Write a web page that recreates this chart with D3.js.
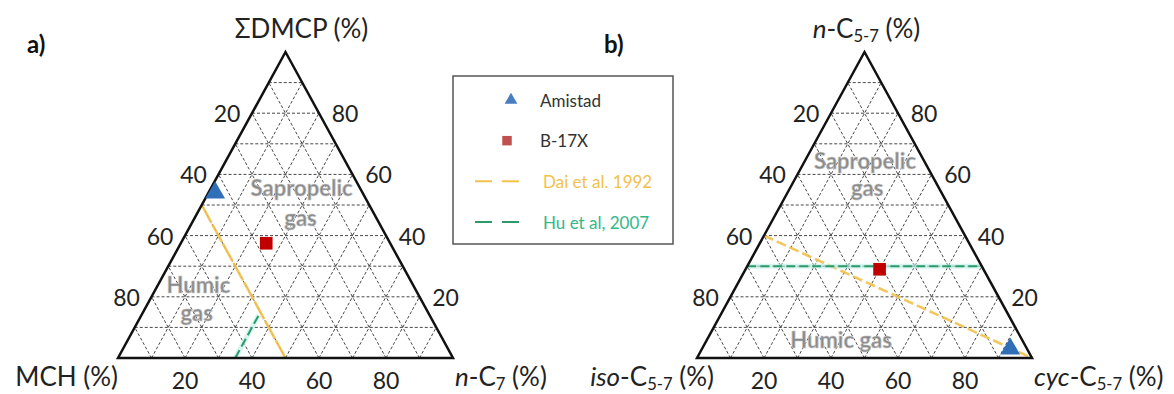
<!DOCTYPE html>
<html>
<head>
<meta charset="utf-8">
<script src="https://cdn.jsdelivr.net/npm/d3@7"></script>
<style>
  body { margin: 0; background: #fff; }
  svg { display: block; font-family: Lato, "Open Sans", sans-serif; }
  .grid { fill: none; stroke: #333; stroke-width: 0.9; stroke-dasharray: 3,2; }
  .frame { fill: none; stroke: #111; stroke-width: 2.5; stroke-linejoin: miter; }
  .tick-label { font-size: 23px; fill: #222; text-anchor: middle; dominant-baseline: central; }
  .vertex-label { font-size: 26px; fill: #222; }
  .region-label { font-size: 22px; font-weight: bold; fill: #8a8a8a; stroke: #c8c8c8; stroke-width: 0.6; text-anchor: middle; dominant-baseline: central; }
  .panel-tag { font-size: 24px; font-weight: bold; fill: #111; }
</style>
</head>
<body>
<svg id="chart" width="1174" height="394"></svg>
<script>
// ---------- data (compositions are [top, left, right] in %) ----------
const gridLevels = [10, 20, 30, 40, 50, 60, 70, 80, 90];
const tickValues = [20, 40, 60, 80];

const legendLabels = ["Amistad", "B-17X", "Dai et al. 1992", "Hu et al, 2007"];

// panel a: top = ΣDMCP, left = MCH, right = n-C7
const amistadA = [[54, 44, 2]];
const b17xA = [[37.5, 37, 25.5]];
const daiLineA = [[50, 50, 0], [0, 50, 50]];
const huLineA = [[0, 65, 35], [14, 51, 35]];
const regionTextA = ["Sapropelic", "gas", "Humic", "gas"];
const regionCompA = [[55.6, 17.4, 27], [46, 22.5, 31.5], [24, 64, 12], [15, 69, 16]];

// panel b: top = n-C5-7, left = iso-C5-7, right = cyc-C5-7
const amistadB = [[3, 5, 92]];
const b17xB = [[29, 31, 40]];
const daiLineB = [[40, 60, 0], [0, 0, 100]];
const huLineB = [[30, 70, 0], [30, 0, 70]];
const regionTextB = ["Sapropelic", "gas", "Humic gas"];
const regionCompB = [[64.7, 17.5, 17.8], [55.6, 21.4, 23], [6, 54, 40]];

// ---------- colours ----------
const blue = "#2f6fb8", red = "#c00000";
const daiColour = "#f3c14c", huColour = "#2e9a6a";

const svg = d3.select("#chart");
svg.append("rect").attr("width", 1174).attr("height", 394).attr("fill", "#fff");

/**
 * Draw one ternary panel
 */
function drawTernary(opts) {
    const g = svg.append("g");

    // unit-triangle coords: u along base (0..1), v height (0..1)
    const xScale = d3.scaleLinear().domain([0, 1]).range([opts.x0, opts.x0 + opts.width]);
    const yScale = d3.scaleLinear().domain([0, 1]).range([opts.baseY, opts.topY]);
    const proj = c => {
        const s = c[0] + c[1] + c[2];
        const t = c[0] / s, r = c[2] / s;
        return [xScale(r + t / 2), yScale(t)];
    };
    const line = d3.line().x(d => proj(d)[0]).y(d => proj(d)[1]);

    // grid
    const gridSegs = [];
    gridLevels.forEach(k => {
        gridSegs.push([[k, 100 - k, 0], [k, 0, 100 - k]]);   // constant top
        gridSegs.push([[0, k, 100 - k], [100 - k, k, 0]]);   // constant left
        gridSegs.push([[0, 100 - k, k], [100 - k, 0, k]]);   // constant right
    });
    g.selectAll("path.grid").data(gridSegs).join("path")
        .attr("class", "grid")
        .attr("d", line);

    // reference lines
    g.append("path").datum(opts.dai)
        .attr("fill", "none").attr("stroke", daiColour).attr("stroke-width", 2.6)
        .attr("stroke-dasharray", opts.daiDash).attr("opacity", 0.9)
        .attr("d", line);
    g.append("path").datum(opts.hu)
        .attr("fill", "none").attr("stroke", "#b8efe6").attr("stroke-width", 5).attr("opacity", 0.6)
        .attr("d", line);
    g.append("path").datum(opts.hu)
        .attr("fill", "none").attr("stroke", huColour).attr("stroke-width", 2)
        .attr("stroke-dasharray", "9,4")
        .attr("d", line);

    // frame
    g.append("path").datum([[100, 0, 0], [0, 100, 0], [0, 0, 100]])
        .attr("class", "frame")
        .attr("d", d3.line().x(d => proj(d)[0]).y(d => proj(d)[1]).curve(d3.curveLinearClosed));

    // region labels
    g.selectAll("text.region-label").data(opts.regionText).join("text")
        .attr("class", "region-label")
        .attr("x", (d, i) => proj(opts.regionComp[i])[0])
        .attr("y", (d, i) => proj(opts.regionComp[i])[1])
        .text(d => d);

    // points
    g.selectAll("path.amistad").data(opts.amistad).join("path")
        .attr("class", "amistad")
        .attr("transform", d => `translate(${proj(d)})`)
        .attr("d", d3.symbol(d3.symbolTriangle, 170))
        .attr("fill", blue);
    g.selectAll("path.b17x").data(opts.b17x).join("path")
        .attr("class", "b17x")
        .attr("transform", d => `translate(${proj(d)})`)
        .attr("d", d3.symbol(d3.symbolSquare, 160))
        .attr("fill", red);

    // tick labels
    g.selectAll("text.tl-left").data(tickValues).join("text")
        .attr("class", "tick-label tl-left")
        .attr("x", d => proj([100 - d, d, 0])[0] - 25)
        .attr("y", d => proj([100 - d, d, 0])[1])
        .text(d => d);
    g.selectAll("text.tl-right").data(tickValues).join("text")
        .attr("class", "tick-label tl-right")
        .attr("x", d => proj([d, 0, 100 - d])[0] + 26)
        .attr("y", d => proj([d, 0, 100 - d])[1])
        .text(d => d);
    g.selectAll("text.tl-bottom").data(tickValues).join("text")
        .attr("class", "tick-label tl-bottom")
        .attr("x", d => proj([0, 100 - d, d])[0])
        .attr("y", d => proj([0, 100 - d, d])[1] + 22)
        .text(d => d);

    // vertex labels
    const apex = proj([100, 0, 0]), bl = proj([0, 100, 0]), br = proj([0, 0, 100]);
    const addLabel = (parts, x, y, anchor) => {
        const t = g.append("text").attr("class", "vertex-label")
            .attr("x", x).attr("y", y).attr("text-anchor", anchor);
        parts.forEach(p => {
            const ts = t.append("tspan").text(p.t);
            if (p.i) ts.attr("font-style", "italic");
            if (p.sub) ts.attr("font-size", "0.64em").attr("dy", 4);
            if (p.after) ts.attr("dy", -4);
        });
    };
    addLabel(opts.topLabel, apex[0] + opts.topShift, 38, "middle");
    addLabel(opts.leftLabel, bl[0] + opts.leftShift, 386, "end");
    addLabel(opts.rightLabel, br[0] + 2, 386, "start");

    g.append("text").attr("class", "panel-tag")
        .attr("x", opts.tagX).attr("y", 53).text(opts.tag);
}

drawTernary({
    x0: 118, width: 335, baseY: 358, topY: 52,
    dai: daiLineA, daiDash: "20,2", hu: huLineA,
    amistad: amistadA, b17x: b17xA,
    regionText: regionTextA, regionComp: regionCompA,
    topLabel: [{t: "ΣDMCP (%)"}], topShift: 16,
    leftLabel: [{t: "MCH (%)"}], leftShift: 0,
    rightLabel: [{t: "n", i: true}, {t: "-C"}, {t: "7", sub: true}, {t: " (%)", after: true}],
    tag: "a)", tagX: 27
});

drawTernary({
    x0: 697, width: 335, baseY: 358, topY: 52,
    dai: daiLineB, daiDash: "10,4", hu: huLineB,
    amistad: amistadB, b17x: b17xB,
    regionText: regionTextB, regionComp: regionCompB,
    topLabel: [{t: "n", i: true}, {t: "-C"}, {t: "5-7", sub: true}, {t: " (%)", after: true}], topShift: 2,
    leftLabel: [{t: "iso", i: true}, {t: "-C"}, {t: "5-7", sub: true}, {t: " (%)", after: true}], leftShift: 17,
    rightLabel: [{t: "cyc", i: true}, {t: "-C"}, {t: "5-7", sub: true}, {t: " (%)", after: true}],
    tag: "b)", tagX: 604
});

// ---------- legend ----------
const legend = svg.append("g");
legend.append("rect")
    .attr("x", 453).attr("y", 76).attr("width", 220).attr("height", 168)
    .attr("fill", "#fff").attr("stroke", "#555").attr("stroke-width", 1.5);

const legendY = d3.scalePoint().domain(legendLabels).range([100, 222]);
const legendColour = [ "#333", "#333", daiColour, "#33b88a" ];

legend.append("path")
    .attr("transform", `translate(511,${legendY("Amistad")})`)
    .attr("d", d3.symbol(d3.symbolTriangle, 70)).attr("fill", "#4a7cc0");
legend.append("path")
    .attr("transform", `translate(507,${legendY("B-17X")})`)
    .attr("d", d3.symbol(d3.symbolSquare, 90)).attr("fill", "#c0504d");
legend.append("line")
    .attr("x1", 475).attr("x2", 521)
    .attr("y1", legendY("Dai et al. 1992")).attr("y2", legendY("Dai et al. 1992"))
    .attr("stroke", daiColour).attr("stroke-width", 2).attr("stroke-dasharray", "17,10");
legend.append("line")
    .attr("x1", 475).attr("x2", 521)
    .attr("y1", legendY("Hu et al, 2007")).attr("y2", legendY("Hu et al, 2007"))
    .attr("stroke", huColour).attr("stroke-width", 2).attr("stroke-dasharray", "17,10");

legend.selectAll("text").data(legendLabels).join("text")
    .attr("x", (d, i) => i < 2 ? 540 : 543)
    .attr("y", d => legendY(d))
    .attr("dominant-baseline", "central")
    .attr("font-size", 17)
    .attr("fill", (d, i) => legendColour[i])
    .text(d => d);
</script>
</body>
</html>
